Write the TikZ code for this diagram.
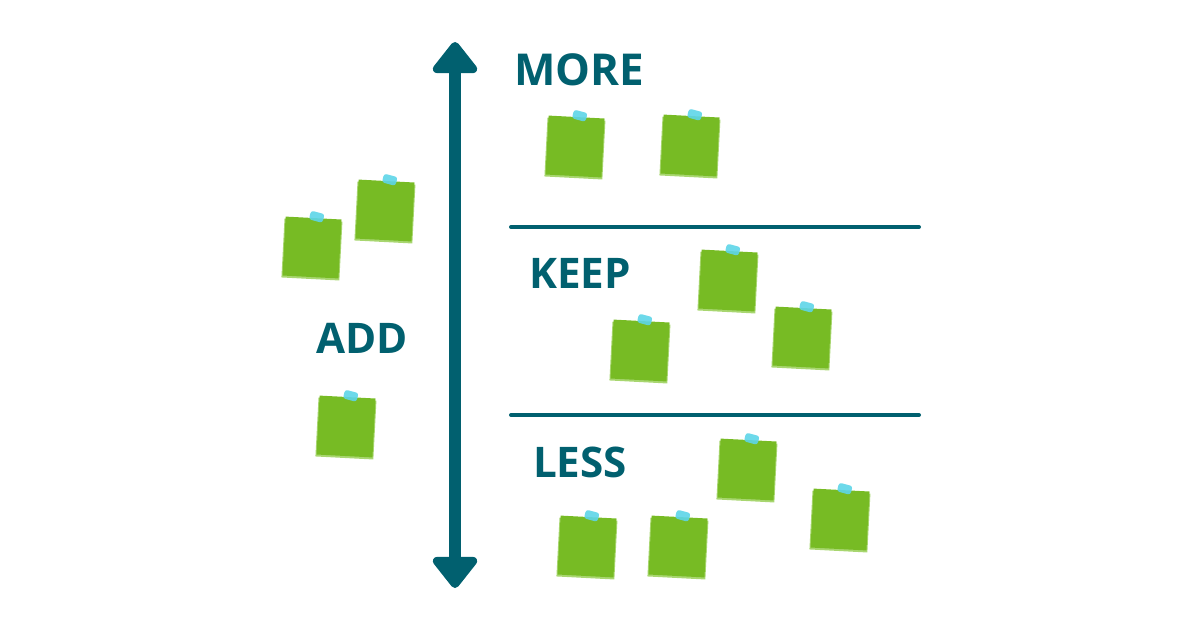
\documentclass[tikz,border=0pt]{standalone}
\usepackage{fontspec}
\setmainfont{Open Sans}
\usetikzlibrary{arrows.meta}

\definecolor{axisteal}{HTML}{01606F}
\definecolor{notegreen}{HTML}{77BB24}
\definecolor{noteshade}{HTML}{A8D670}
\definecolor{tapecyan}{HTML}{5DD5E8}

\tikzset{
  axis/.style={axisteal, line width=0.24cm},
  divider/.style={axisteal, line width=0.08cm, line cap=round},
  label/.style={text=axisteal, font=\fontsize{24}{24}\selectfont\bfseries},
  note/.style={fill=notegreen},
  noteback/.style={fill=noteshade},
  tape/.style={fill=tapecyan, opacity=0.9, rounded corners=1.5pt}
}

\begin{document}
\begin{tikzpicture}[x=0.02cm,y=-0.02cm]
\useasboundingbox (0,0) rectangle (1200,630);

% vertical axis
\coordinate (up) at (455,42);
\coordinate (down) at (455,588);
\draw[axis, {Triangle[length=0.68cm,width=1.02cm,round]}-{Triangle[length=0.68cm,width=1.02cm,round]}] (up) -- (down);

% section dividers
\coordinate (d1a) at (511,227);
\coordinate (d1b) at (919,227);
\coordinate (d2a) at (511,415);
\coordinate (d2b) at (919,415);
\draw[divider] (d1a) -- (d1b);
\draw[divider] (d2a) -- (d2b);

% labels
\node[label, font=\fontsize{25}{25}\selectfont\bfseries] (more) at (579,70) {MORE};
\node[label] (keep) at (580,273) {KEEP};
\node[label] (add) at (362,338) {ADD};
\node[label] (less) at (580,462) {LESS};

% sticky notes
\foreach \x/\y/\a in {575/147/-3, 690/146/-3, 385/211/-3, 312/248/-3,
                     728/281/-3, 640/351/-3, 802/338/-3, 346/427/-3,
                     747/470/-3, 840/520/-3, 587/547/-3, 678/547/-3}{
  \begin{scope}[shift={(\x,\y)}, rotate=\a]
    \fill[noteback] (-29,-28) rectangle (29,31);
    \fill[note] (-28,-30) rectangle (28,29);
    \fill[tape, rotate around={-12:(3,-31)}] (-4,-36) rectangle (10,-27);
  \end{scope}
}
\end{tikzpicture}
\end{document}
